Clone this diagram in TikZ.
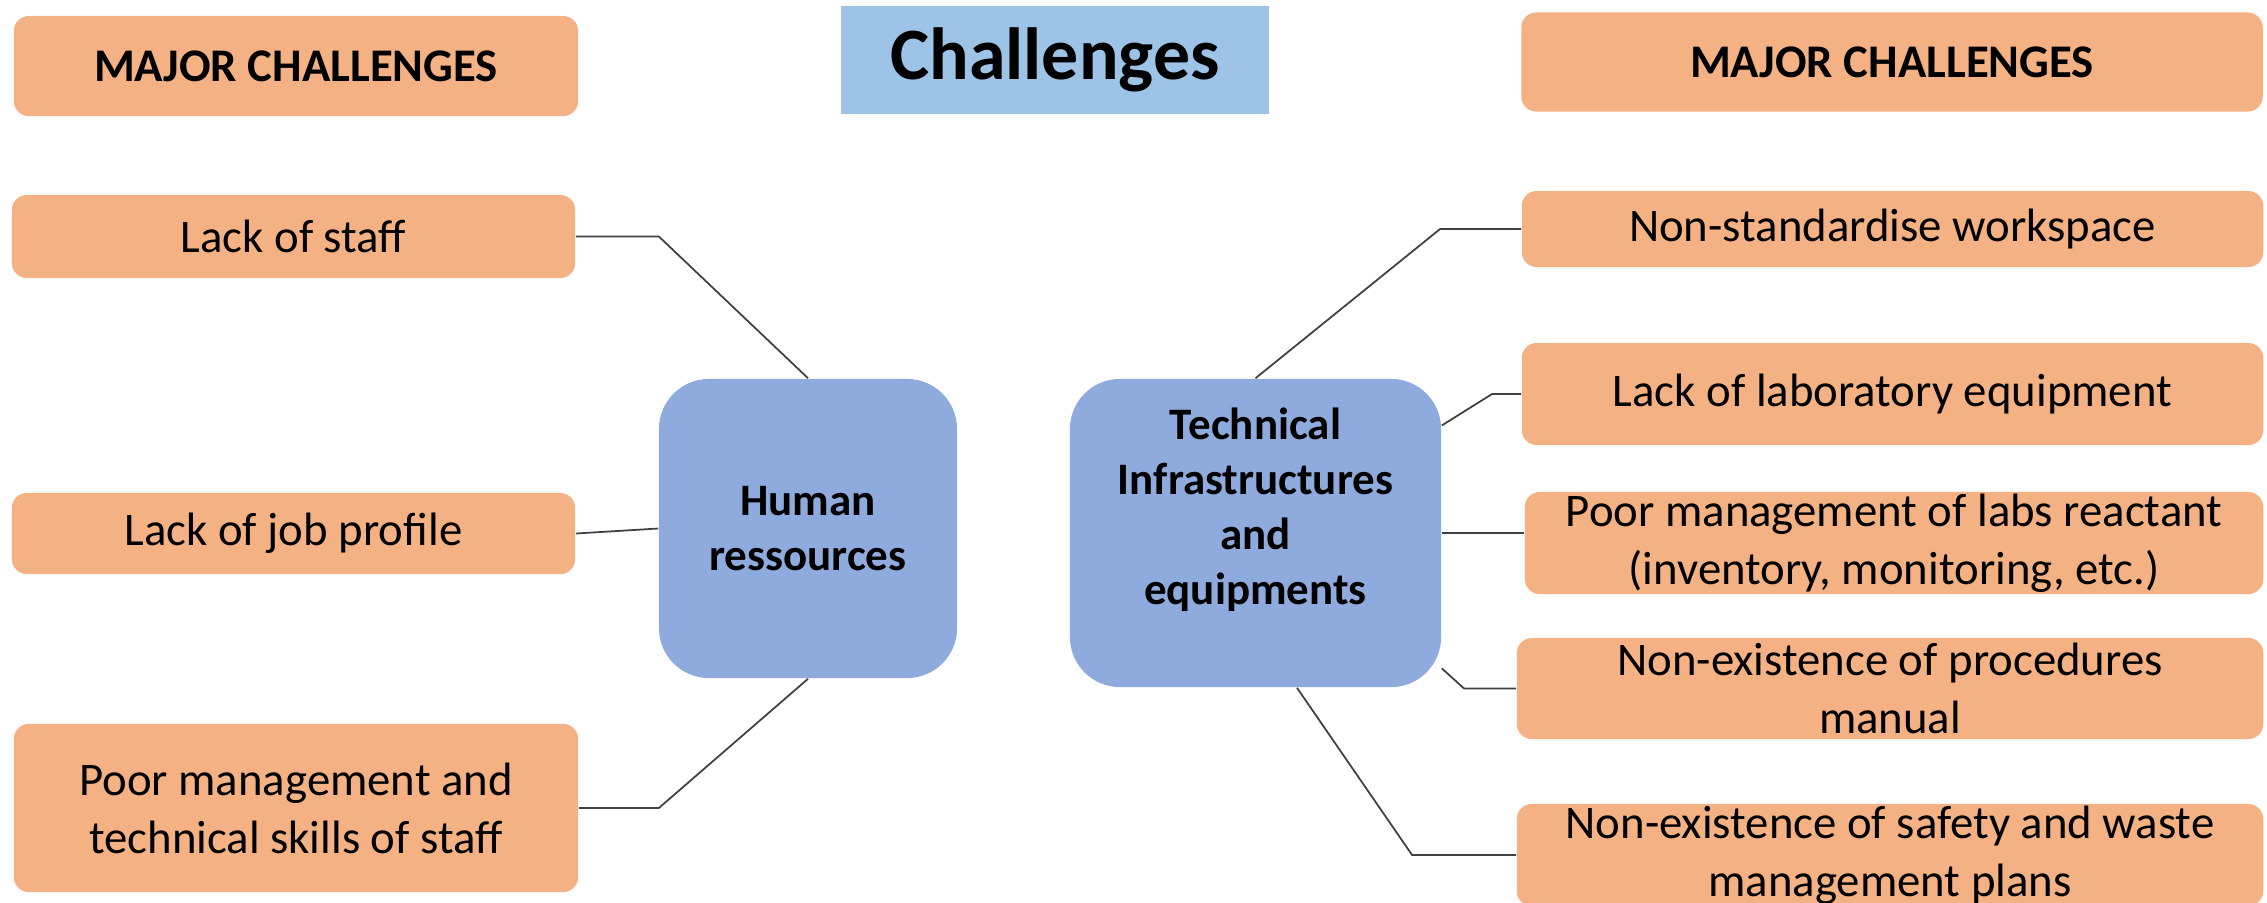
\documentclass[tikz,border=0pt]{standalone}
\usepackage{fontspec}
\setmainfont{Carlito}
\definecolor{boxorange}{HTML}{F4B183}
\definecolor{hubblue}{HTML}{8FAADC}
\definecolor{titleblue}{HTML}{9DC3E6}
\definecolor{linegray}{HTML}{404040}
\tikzset{
  issue/.style={fill=boxorange, rounded corners=0.15cm, align=center,
    inner sep=0pt, font=\fontsize{13.3}{16.5}\selectfont},
  heading/.style={issue, font=\bfseries\fontsize{13.3}{15}\selectfont},
  hub/.style={fill=hubblue, rounded corners=0.5cm, align=center,
    font=\bfseries\fontsize{12.8}{15.6}\selectfont},
  link/.style={draw=linegray, line width=0.5pt},
}

\begin{document}
\begin{tikzpicture}[x=0.01cm, y=-0.01cm]
  \clip (0,0) rectangle (2267,902);
  \node[heading, minimum width=5.64cm, minimum height=1cm] (majl) at (296,66) {MAJOR CHALLENGES};
  \node[heading, minimum width=7.41cm, minimum height=0.99cm] (majr) at (1892,62) {MAJOR CHALLENGES};
  \node[fill=titleblue, minimum width=4.28cm, minimum height=1.08cm,
    font=\bfseries\fontsize{21}{24}\selectfont] (title) at (1055,60) {Challenges};

  \node[hub, minimum width=2.98cm, minimum height=2.99cm] (human) at (808,528.5) {Human\\ressources};
  \node[hub, minimum width=3.71cm, minimum height=3.08cm] (tech) at (1255.5,533) {};
  \node[align=center, font=\bfseries\fontsize{12.8}{15.6}\selectfont] (techtext)
    at ([yshift=0.23cm]tech.center) {Technical\\Infrastructures\\and\\equipments};

  \node[issue, minimum width=5.63cm, minimum height=0.83cm] (staff) at (293.5,236.5) {Lack of staff};
  \node[issue, minimum width=5.63cm, minimum height=0.81cm] (job) at (293.5,533.5) {Lack of job profile};
  \node[issue, minimum width=5.64cm, minimum height=1.68cm] (skills) at (296,808) {Poor management and\\technical skills of staff};

  \node[issue, minimum width=7.41cm, minimum height=0.76cm] (ws) at (1892.5,229) {Non-standardise workspace};
  \node[issue, minimum width=7.41cm, minimum height=1.02cm] (equip) at (1892.5,394) {Lack of laboratory equipment};
  \node[issue, minimum width=7.38cm, minimum height=1.02cm] (react) at (1894,543) {Poor management of labs reactant\\(inventory, monitoring, etc.)};
  \node[issue, minimum width=7.46cm, minimum height=1.01cm] (manual) at (1890,688.5) {Non-existence of procedures\\manual};
  \node[issue, minimum width=7.46cm, minimum height=1.02cm] (safety) at (1890,855) {Non-existence of safety and waste\\management plans};

  \draw[link] (staff.east) -- ++(83,0) -- (human.north);
  \draw[link] (job.east) -- (human.west);
  \draw[link] (skills.east) -- ++(80,0) -- (human.south);
  \draw[link] (ws.west) -- ++(-81,0) -- (tech.north);
  \draw[link] (equip.west) -- ++(-29,0) -- (tech.30);
  \draw[link] (tech.east) -- (tech.east -| react.west);
  \draw[link] (manual.west) -- ++(-52,0) -- (tech.-36);
  \draw[link] (safety.west) -- ++(-104,0) -- (tech.-75);
\end{tikzpicture}
\end{document}
